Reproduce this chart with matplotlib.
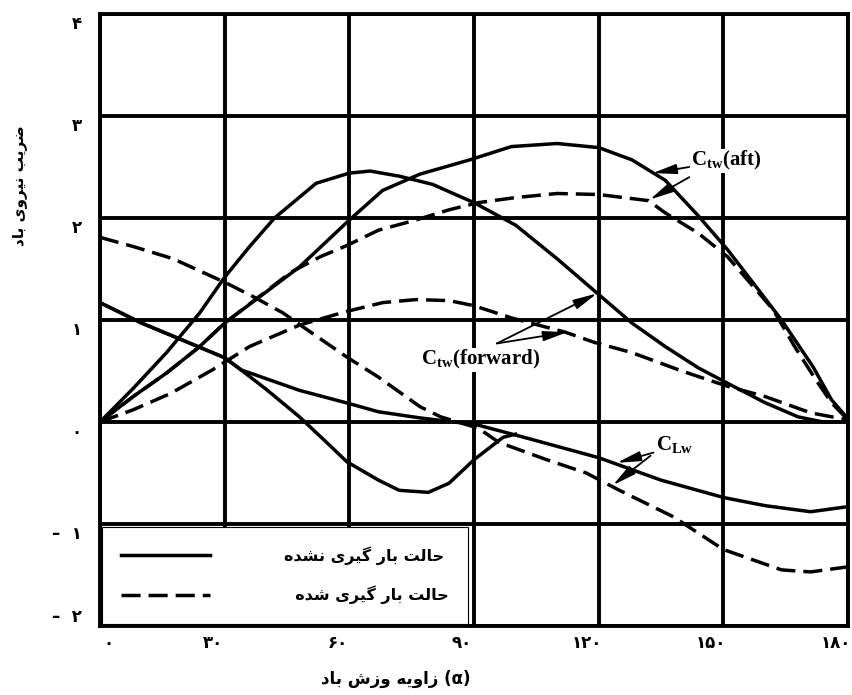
import numpy as np
import matplotlib
matplotlib.use("Agg")
import matplotlib.pyplot as plt
from matplotlib.transforms import ScaledTranslation

plt.rcParams["mathtext.fontset"] = "custom"
plt.rcParams["mathtext.rm"] = "Liberation Serif:bold"
plt.rcParams["mathtext.it"] = "Liberation Serif:bold"
plt.rcParams["mathtext.bf"] = "Liberation Serif:bold"

# --- data (angle in degrees, coefficient) ---
ang_s_aft = [0, 8, 16, 24, 30, 48, 60, 68, 77, 89, 99, 110, 120, 128, 136, 144, 151, 158, 164, 171.6, 176, 180]
val_s_aft = [0, 0.25, 0.48, 0.74, 0.97, 1.52, 1.98, 2.27, 2.43, 2.57, 2.70, 2.73, 2.69, 2.57, 2.37, 2.02, 1.69, 1.32, 1.0, 0.54, 0.22, 0.03]

ang_d_aft = [0, 8, 16, 24, 30, 46, 53, 59.4, 67, 76, 84, 91, 100, 110, 120, 132, 136, 144, 151, 158, 162, 167, 172, 176, 180]
val_d_aft = [0, 0.25, 0.48, 0.74, 0.97, 1.47, 1.62, 1.73, 1.88, 1.98, 2.08, 2.15, 2.20, 2.24, 2.23, 2.17, 2.05, 1.85, 1.62, 1.29, 1.10, 0.75, 0.43, 0.19, 0.02]

ang_s_fwd = [0, 8, 16, 24, 30, 36, 42, 52, 60, 65, 72, 80, 90, 100, 110, 120, 128, 136, 144, 151, 160, 168, 174, 180]
val_s_fwd = [0, 0.33, 0.68, 1.07, 1.42, 1.72, 2.0, 2.34, 2.44, 2.46, 2.41, 2.33, 2.15, 1.93, 1.60, 1.25, 0.97, 0.74, 0.53, 0.38, 0.19, 0.05, 0.0, 0.0]

ang_d_fwd = [0, 8, 17, 27, 36, 48, 59, 68, 76, 84, 90, 99, 112, 119, 128, 140, 151, 160, 171, 180]
val_d_fwd = [0, 0.12, 0.28, 0.51, 0.74, 0.95, 1.08, 1.17, 1.20, 1.19, 1.14, 1.02, 0.88, 0.78, 0.68, 0.50, 0.35, 0.25, 0.09, 0.02]

ang_s_cl = [0, 10, 20, 30, 34, 48, 60, 67, 77, 85, 90, 102, 120, 135, 150, 160, 171, 180]
val_s_cl = [1.17, 0.97, 0.80, 0.63, 0.51, 0.31, 0.18, 0.10, 0.04, 0.0, -0.02, -0.15, -0.35, -0.57, -0.74, -0.82, -0.88, -0.83]

ang_s_dip = [0, 10, 20, 30, 33, 40, 48, 54, 59.4, 67, 72, 79, 84, 90, 97, 100]
val_s_dip = [1.17, 0.97, 0.80, 0.63, 0.54, 0.32, 0.05, -0.18, -0.39, -0.57, -0.67, -0.69, -0.60, -0.37, -0.15, -0.12]

ang_d_cl = [0, 8, 17.6, 30.5, 36.8, 44, 50, 60, 67, 77, 82, 91, 96, 107.5, 117, 125, 138, 150, 164, 171, 180]
val_d_cl = [1.81, 1.72, 1.60, 1.36, 1.23, 1.07, 0.90, 0.62, 0.44, 0.15, 0.05, -0.06, -0.20, -0.37, -0.50, -0.67, -0.93, -1.25, -1.45, -1.47, -1.42]

x_ticks = [0, 30, 60, 90, 120, 150, 180]
y_ticks = [-2, -1, 0, 1, 2, 3, 4]

# label text position, arrow start, arrow tips (data coords)
aft_text = (142.3, 2.56)
aft_tail = [(141.8, 2.50), (141.8, 2.40)]
aft_tips = [(133.0, 2.44), (132.3, 2.18)]
fwd_text = (77.3, 0.61)
fwd_tail = [(95.5, 0.77), (95.5, 0.77)]
fwd_tips = [(119.6, 1.26), (112.4, 0.88)]
cl_text = (133.9, -0.22)
cl_tail = [(133.2, -0.30), (132.5, -0.33)]
cl_tips = [(124.4, -0.40), (123.4, -0.62)]

legend_labels = ["حالت بار گیری نشده", "حالت بار گیری شده"]
ylabel_txt = "ضریب نیروی باد"
xlabel_txt = "زاویه وزش باد"

# Persian letter forms: isolated, final, initial, medial
FORMS = {
    "ا": (0xFE8D, 0xFE8E), "ب": (0xFE8F, 0xFE90, 0xFE91, 0xFE92),
    "ت": (0xFE95, 0xFE96, 0xFE97, 0xFE98), "ح": (0xFEA1, 0xFEA2, 0xFEA3, 0xFEA4),
    "د": (0xFEA9, 0xFEAA), "ر": (0xFEAD, 0xFEAE), "ز": (0xFEAF, 0xFEB0),
    "ش": (0xFEB5, 0xFEB6, 0xFEB7, 0xFEB8), "ض": (0xFEBD, 0xFEBE, 0xFEBF, 0xFEC0),
    "ل": (0xFEDD, 0xFEDE, 0xFEDF, 0xFEE0), "ن": (0xFEE5, 0xFEE6, 0xFEE7, 0xFEE8),
    "ه": (0xFEE9, 0xFEEA, 0xFEEB, 0xFEEC), "و": (0xFEED, 0xFEEE),
    "ی": (0xFBFC, 0xFBFD, 0xFBFE, 0xFBFF), "گ": (0xFB92, 0xFB93, 0xFB94, 0xFB95),
}


def farsi(text):
    words = []
    for w in text.split(" "):
        out = ""
        for i, c in enumerate(w):
            f = FORMS[c]
            pj = i > 0 and len(FORMS[w[i - 1]]) == 4
            nj = len(f) == 4 and i < len(w) - 1
            if pj and nj:
                out += chr(f[3])
            elif nj:
                out += chr(f[2])
            elif pj:
                out += chr(f[1])
            else:
                out += chr(f[0])
        words.append(out)
    return " ".join(words)[::-1]


def fa_num(n):
    s = str(abs(n)).translate(str.maketrans("0123456789", "۰۱۲۳۴۵۶۷۸۹"))
    return "–  " + s if n < 0 else s


fig = plt.figure(figsize=(8.52, 6.95), dpi=100)
ax = fig.add_axes([0.1174, 0.0993, 0.8779, 0.8806])

lw = 2.5
dash = (5.5, 2.3)
l_s, = ax.plot(ang_s_aft, val_s_aft, color="black", lw=lw, zorder=3)
ax.plot(ang_s_fwd, val_s_fwd, color="black", lw=lw, zorder=3)
ax.plot(ang_s_cl, val_s_cl, color="black", lw=lw, zorder=3)
ax.plot(ang_s_dip, val_s_dip, color="black", lw=lw, zorder=3)
l_d, = ax.plot(ang_d_aft, val_d_aft, color="black", lw=lw, dashes=dash, zorder=3)
ax.plot(ang_d_fwd, val_d_fwd, color="black", lw=lw, dashes=dash, zorder=3)
ax.plot(ang_d_cl, val_d_cl, color="black", lw=lw, dashes=dash, zorder=3)

ax.set_xlim(0, 180)
ax.set_ylim(-2, 4)
ax.set_xticks(x_ticks, [fa_num(v) for v in x_ticks])
ax.set_yticks(y_ticks, [fa_num(v) for v in y_ticks])
ax.tick_params(length=0, pad=6)
ax.tick_params(axis="y", pad=13)
for t in ax.get_xticklabels() + ax.get_yticklabels():
    t.set_fontfamily("DejaVu Sans")
    t.set_fontweight("bold")
    t.set_fontsize(12)
# nudge the labels like the printed chart (pixels)
for i, t in enumerate(ax.get_xticklabels()):
    dx = 8 if i == 0 else -12
    t.set_transform(t.get_transform() + ScaledTranslation(dx / 100, 0, fig.dpi_scale_trans))
for i, t in enumerate(ax.get_yticklabels()):
    dy = 11 if i == 0 else -8
    t.set_transform(t.get_transform() + ScaledTranslation(0, dy / 100, fig.dpi_scale_trans))

ax.grid(True, color="black", lw=2.8, zorder=1)
for s in ax.spines.values():
    s.set_linewidth(2.8)
    s.set_zorder(4)

ax.set_ylabel(farsi(ylabel_txt), fontfamily="DejaVu Sans", fontweight="bold", fontsize=11)
ax.yaxis.set_label_coords(-0.098, 0.72)
ax.set_xlabel(farsi(xlabel_txt) + " (α)", fontfamily="DejaVu Sans", fontweight="bold", fontsize=12)
ax.xaxis.set_label_coords(0.396, -0.072)

# curve labels with arrows
lab_font = dict(fontfamily="Liberation Serif", fontweight="bold", fontsize=15,
                ha="left", va="center", zorder=5,
                bbox=dict(facecolor="white", edgecolor="none", pad=0.5))
ax.text(*aft_text, r"$\mathrm{C_{tw}}$(aft)", **lab_font)
ax.text(*fwd_text, r"$\mathrm{C_{tw}}$(forward)", **lab_font)
ax.text(*cl_text, r"$\mathrm{C_{Lw}}$", **lab_font)
arrow = dict(arrowstyle="-|>,head_length=1.2,head_width=0.25", color="black",
             lw=1.3, shrinkA=0, shrinkB=0, mutation_scale=12)
for tails, tips in [(aft_tail, aft_tips), (fwd_tail, fwd_tips), (cl_tail, cl_tips)]:
    for tail, tip in zip(tails, tips):
        ax.annotate("", xy=tip, xytext=tail, arrowprops=arrow, zorder=5)

leg = ax.legend([l_s, l_d], [farsi(legend_labels[0]), "  " + farsi(legend_labels[1])],
                loc="lower left", bbox_to_anchor=(0.002, 0.004),
                prop=dict(family="DejaVu Sans", weight="bold", size=11.5),
                frameon=True, fancybox=False, edgecolor="black", framealpha=1,
                handlelength=5.6, handletextpad=4.6, borderpad=1.2,
                labelspacing=1.3, borderaxespad=0)
leg.get_frame().set_linewidth(0.8)
leg.set_zorder(6)

fig.savefig("out.png", dpi=100)
